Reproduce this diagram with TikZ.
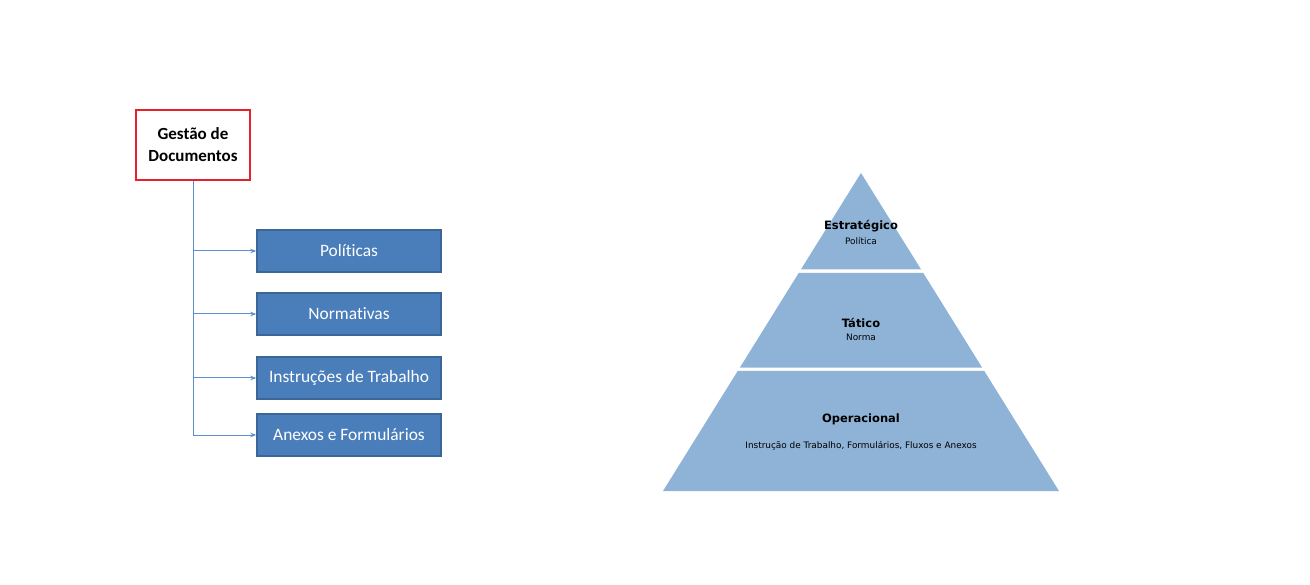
\documentclass[tikz,border=0pt]{standalone}
\usepackage{fontspec}
\setmainfont{Carlito}[Ligatures=NoCommon]
\newfontfamily\pyrfont{DejaVu Sans}
\usetikzlibrary{arrows.meta}

\definecolor{boxblue}{HTML}{4A7EBB}
\definecolor{boxedge}{HTML}{3A6797}
\definecolor{linkblue}{HTML}{5B8FCB}
\definecolor{pyrblue}{HTML}{8EB3D6}
\definecolor{rededge}{HTML}{E8202A}

\tikzset{
  docbox/.style={draw=boxedge, fill=boxblue, line width=1.5pt, minimum width=184pt,
    minimum height=42pt, text=white, font=\fontsize{17.4}{20}\selectfont},
  link/.style={draw=linkblue, line width=1pt, -{Stealth[length=6pt,width=4.5pt]}},
  level/.style={font=\pyrfont\bfseries\fontsize{11.5}{13}\selectfont},
  sublevel/.style={font=\pyrfont\fontsize{8.9}{10}\selectfont}
}

\begin{document}
\begin{tikzpicture}[x=1pt,y=-1pt]
			\useasboundingbox (0,0) rectangle (1310,585);
			% left: document tree
			\node [draw=rededge, line width=2pt, fill=white, minimum width=114pt, minimum height=70pt,
				align=center, font=\bfseries\fontsize{17}{22}\selectfont] (gestao) at (193,145) {Gestão de\\Documentos};
			\node [docbox] (politicas) at (349,251) {Políticas};
			\node [docbox] (normativas) at (349,314) {Normativas};
			\node [docbox] (instrucoes) at (349,378) {Instruções de Trabalho};
			\node [docbox] (anexos) at (349,435) {Anexos e Formulários};
			\draw [draw=linkblue, line width=1pt] (gestao.south) -- (gestao.south |- anexos.west);
			\foreach \doc in {politicas,normativas,instrucoes,anexos}
				\draw [link] (gestao.south |- \doc.west) -- (\doc.west);
			% right: pyramid
			\fill [pyrblue] (801,269.3) -- (861,173) -- (921,269.3) -- cycle;
			\fill [pyrblue] (798.7,273) -- (923.3,273) -- (982.2,367.7) -- (739.8,367.7) -- cycle;
			\fill [pyrblue] (737.7,371) -- (984.3,371) -- (1059,491) -- (663,491) -- cycle;
			\node [level] (estrategico) at (861,226) {Estratégico};
			\node [sublevel] (politica) at (861,241) {Política};
			\node [level] (tatico) at (861,323) {Tático};
			\node [sublevel] (norma) at (861,337) {Norma};
			\node [level] (operacional) at (861,419) {Operacional};
			\node [sublevel] (instrucao) at (861,446) {Instrução de Trabalho, Formulários, Fluxos e Anexos};
		\end{tikzpicture}
\end{document}
